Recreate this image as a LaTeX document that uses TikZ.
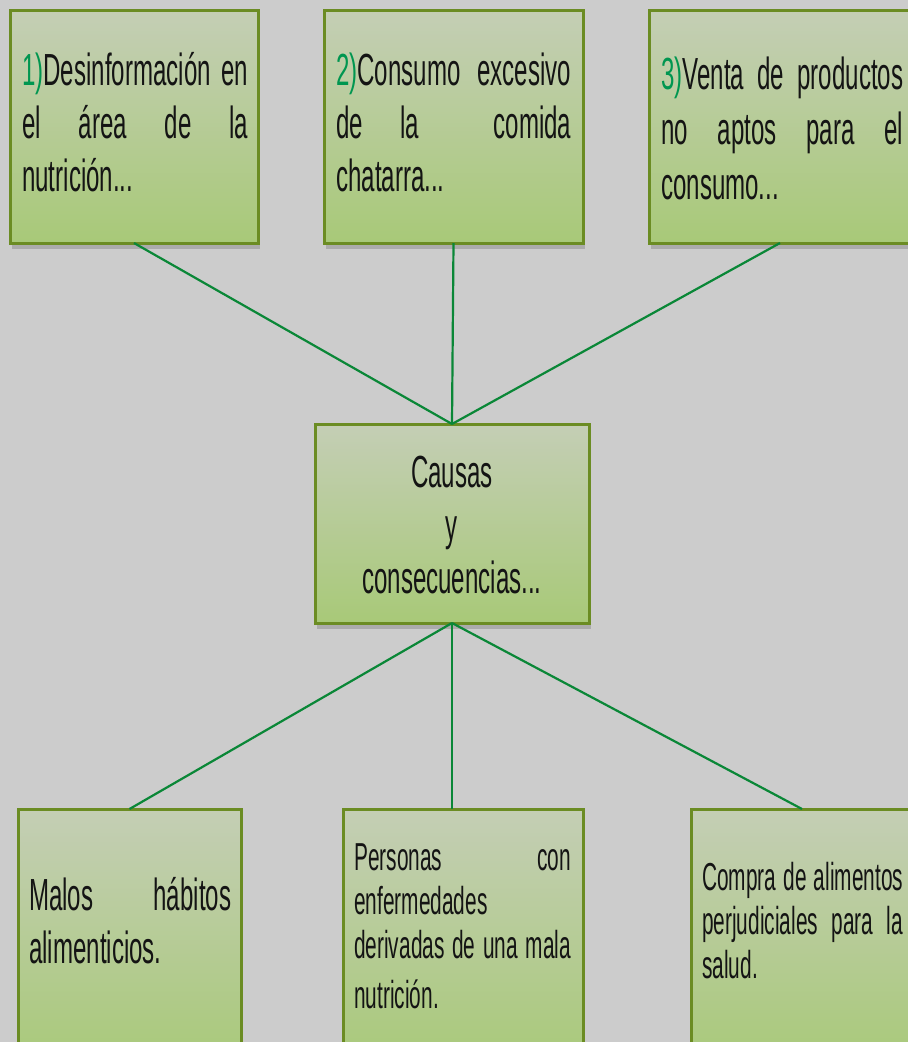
\documentclass[tikz,border=0pt]{standalone}
\usepackage{fontspec}
\newfontfamily\narrowfont[FakeStretch=0.535]{Liberation Sans}
\usetikzlibrary{shadows}
\definecolor{bgc}{RGB}{204,204,204}
\definecolor{boxtop}{RGB}{196,206,181}
\definecolor{boxbot}{RGB}{168,201,120}
\definecolor{boxedge}{RGB}{107,140,35}
\definecolor{linkc}{RGB}{10,135,55}
\definecolor{numc}{RGB}{0,150,80}
\definecolor{txtc}{RGB}{20,20,20}
\newcommand{\jl}[1]{\makebox[\linewidth][s]{\spaceskip=0pt\xspaceskip=0pt #1}}
\newcommand{\gn}[1]{\textcolor{numc}{#1}}
\tikzset{
  boxnode/.style={rectangle, draw=boxedge, line width=3pt, top color=boxtop,
    bottom color=boxbot, inner sep=0pt, outer sep=0pt, anchor=north west,
    drop shadow={shadow xshift=2pt, shadow yshift=-6pt, fill=black!45}},
  txtbig/.style={inner sep=0pt, anchor=base west, align=left, text=txtc,
    font=\narrowfont\fontsize{45}{53}\selectfont},
  txtsmall/.style={inner sep=0pt, anchor=base west, align=left, text=txtc,
    font=\narrowfont\fontsize{39}{44}\selectfont},
  link/.style={draw=linkc, line width=2.2pt}
}
\begin{document}
\begin{tikzpicture}[x=1pt,y=-1pt]
\fill[bgc] (0,0) rectangle (908,1042);
\useasboundingbox (0,0) rectangle (908,1042);
\clip (0,0) rectangle (908,1042);

% boxes
\node[boxnode, minimum width=248pt, minimum height=233pt] (b1) at (10,10) {};
\node[boxnode, minimum width=259pt, minimum height=233pt] (b2) at (324,10) {};
\node[boxnode, minimum width=262pt, minimum height=233pt] (b3) at (649,10) {};
\node[boxnode, minimum width=274pt, minimum height=199pt] (c) at (315,424) {};
\node[boxnode, minimum width=223pt, minimum height=261pt] (d1) at (18,809) {};
\node[boxnode, minimum width=240pt, minimum height=261pt] (d2) at (343,809) {};
\node[boxnode, minimum width=222pt, minimum height=261pt] (d3) at (691,809) {};

% connectors
\draw[link] (b1.south) -- (c.north);
\draw[link] (b2.south) -- (c.north);
\draw[link] (b3.south) -- (c.north);
\coordinate (d2top) at (c.south |- d2.north);
\draw[link] (c.south) -- (d1.north);
\draw[link] (c.south) -- (d2top);
\draw[link] (c.south) -- (d3.north);

% texts
\node[txtbig, text width=226pt] (t1) at (22,85)
  {\jl{\gn{1)}Desinformación en}\\ \jl{el área de la}\\ nutrición...};
\node[txtbig, text width=235pt] (t2) at (336,85)
  {\jl{\gn{2)}Consumo excesivo}\\ \jl{de\hfill la\hfill\hfill comida}\\ chatarra...};
\node[txtbig, text width=242pt, font=\narrowfont\fontsize{45}{55}\selectfont] (t3) at (661,89)
  {\jl{\gn{3)}Venta de productos}\\ \jl{no aptos para el}\\ consumo...};
\node[txtbig, text width=260pt, align=center, anchor=base] (tc) at (452,487)
  {Causas\\ y\\ consecuencias...};
\node[txtbig, text width=202pt] (td1) at (29,910)
  {\jl{Malos hábitos}\\ alimenticios.};
\node[txtsmall, text width=217pt] (td2) at (354,870)
  {\jl{Personas con}\\ enfermedades\\ \jl{derivadas de una mala}\\[6pt] nutrición.};
\node[txtsmall, text width=201pt] (td3) at (702,890)
  {\jl{Compra de alimentos}\\ \jl{perjudiciales para la}\\ salud.};
\end{tikzpicture}
\end{document}
